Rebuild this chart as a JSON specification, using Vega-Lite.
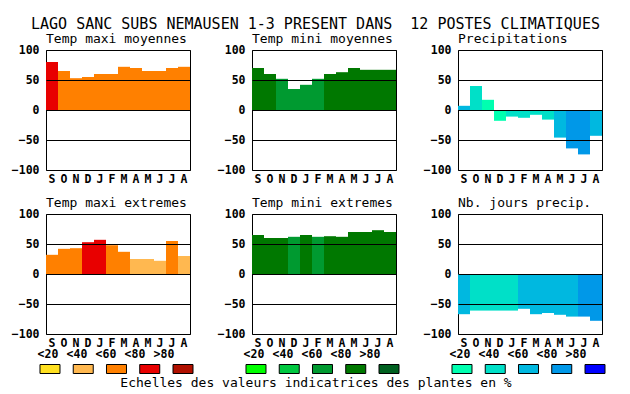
{
  "$schema": "https://vega.github.io/schema/vega-lite/v6.json",
  "padding": {"left": 10, "top": 16, "right": 5, "bottom": 5},
  "background": "white",
  "title": {"text": "LAGO SANC SUBS NEMAUSEN 1-3 PRESENT DANS \u00a012 POSTES CLIMATIQUES", "fontSize": 15, "anchor": "start", "frame": "group", "dx": -15, "offset": -11, "baseline": "alphabetic"},
  "config": {
    "font": "DejaVu Sans Mono",
    "view": {"stroke": "black", "strokeWidth": 1},
    "axis": {"labelFont": "DejaVu Sans Mono", "labelFontWeight": "bold", "labelFontSize": 11.5, "labelColor": "black", "ticks": false, "domain": false},
    "axisY": {"grid": true, "gridColor": "black", "gridOpacity": 1, "gridWidth": 1, "labelPadding": 7},
    "axisX": {"grid": false, "labelPadding": 3, "labelAngle": 0},
    "title": {"font": "DejaVu Sans Mono", "fontSize": 13, "fontWeight": "normal", "anchor": "start", "frame": "group", "color": "black", "offset": -2, "baseline": "alphabetic"},
    "text": {"font": "DejaVu Sans Mono", "color": "black"}
  },
  "datasets": {
    "d": [
      {"p": "tmaxm", "m": 0, "v": 80, "c": "T4"}, {"p": "tmaxm", "m": 1, "v": 65, "c": "T3"}, {"p": "tmaxm", "m": 2, "v": 53, "c": "T3"}, {"p": "tmaxm", "m": 3, "v": 55, "c": "T3"}, {"p": "tmaxm", "m": 4, "v": 60, "c": "T3"}, {"p": "tmaxm", "m": 5, "v": 60, "c": "T3"}, {"p": "tmaxm", "m": 6, "v": 72, "c": "T3"}, {"p": "tmaxm", "m": 7, "v": 70, "c": "T3"}, {"p": "tmaxm", "m": 8, "v": 65, "c": "T3"}, {"p": "tmaxm", "m": 9, "v": 65, "c": "T3"}, {"p": "tmaxm", "m": 10, "v": 70, "c": "T3"}, {"p": "tmaxm", "m": 11, "v": 72, "c": "T3"},
      {"p": "tminm", "m": 0, "v": 70, "c": "G4"}, {"p": "tminm", "m": 1, "v": 60, "c": "G4"}, {"p": "tminm", "m": 2, "v": 52, "c": "G3"}, {"p": "tminm", "m": 3, "v": 35, "c": "G3"}, {"p": "tminm", "m": 4, "v": 42, "c": "G3"}, {"p": "tminm", "m": 5, "v": 52, "c": "G3"}, {"p": "tminm", "m": 6, "v": 60, "c": "G4"}, {"p": "tminm", "m": 7, "v": 63, "c": "G4"}, {"p": "tminm", "m": 8, "v": 70, "c": "G4"}, {"p": "tminm", "m": 9, "v": 67, "c": "G4"}, {"p": "tminm", "m": 10, "v": 67, "c": "G4"}, {"p": "tminm", "m": 11, "v": 67, "c": "G4"},
      {"p": "prec", "m": 0, "v": 7, "c": "B3"}, {"p": "prec", "m": 1, "v": 40, "c": "B2"}, {"p": "prec", "m": 2, "v": 17, "c": "B1"}, {"p": "prec", "m": 3, "v": -18, "c": "B1"}, {"p": "prec", "m": 4, "v": -11, "c": "B2"}, {"p": "prec", "m": 5, "v": -13, "c": "B2"}, {"p": "prec", "m": 6, "v": -8, "c": "B2"}, {"p": "prec", "m": 7, "v": -16, "c": "B2"}, {"p": "prec", "m": 8, "v": -46, "c": "B3"}, {"p": "prec", "m": 9, "v": -64, "c": "B4"}, {"p": "prec", "m": 10, "v": -74, "c": "B4"}, {"p": "prec", "m": 11, "v": -43, "c": "B3"},
      {"p": "tmaxe", "m": 0, "v": 32, "c": "T3"}, {"p": "tmaxe", "m": 1, "v": 42, "c": "T3"}, {"p": "tmaxe", "m": 2, "v": 43, "c": "T3"}, {"p": "tmaxe", "m": 3, "v": 53, "c": "T4"}, {"p": "tmaxe", "m": 4, "v": 57, "c": "T4"}, {"p": "tmaxe", "m": 5, "v": 48, "c": "T3"}, {"p": "tmaxe", "m": 6, "v": 37, "c": "T3"}, {"p": "tmaxe", "m": 7, "v": 25, "c": "T2"}, {"p": "tmaxe", "m": 8, "v": 25, "c": "T2"}, {"p": "tmaxe", "m": 9, "v": 22, "c": "T2"}, {"p": "tmaxe", "m": 10, "v": 55, "c": "T3"}, {"p": "tmaxe", "m": 11, "v": 30, "c": "T2"},
      {"p": "tmine", "m": 0, "v": 65, "c": "G4"}, {"p": "tmine", "m": 1, "v": 60, "c": "G4"}, {"p": "tmine", "m": 2, "v": 60, "c": "G4"}, {"p": "tmine", "m": 3, "v": 62, "c": "G3"}, {"p": "tmine", "m": 4, "v": 65, "c": "G4"}, {"p": "tmine", "m": 5, "v": 62, "c": "G3"}, {"p": "tmine", "m": 6, "v": 63, "c": "G4"}, {"p": "tmine", "m": 7, "v": 62, "c": "G4"}, {"p": "tmine", "m": 8, "v": 70, "c": "G4"}, {"p": "tmine", "m": 9, "v": 70, "c": "G4"}, {"p": "tmine", "m": 10, "v": 73, "c": "G4"}, {"p": "tmine", "m": 11, "v": 70, "c": "G4"},
      {"p": "nbj", "m": 0, "v": -67, "c": "B3"}, {"p": "nbj", "m": 1, "v": -61, "c": "B2"}, {"p": "nbj", "m": 2, "v": -61, "c": "B2"}, {"p": "nbj", "m": 3, "v": -61, "c": "B2"}, {"p": "nbj", "m": 4, "v": -61, "c": "B2"}, {"p": "nbj", "m": 5, "v": -58, "c": "B3"}, {"p": "nbj", "m": 6, "v": -67, "c": "B3"}, {"p": "nbj", "m": 7, "v": -65, "c": "B3"}, {"p": "nbj", "m": 8, "v": -68, "c": "B3"}, {"p": "nbj", "m": 9, "v": -71, "c": "B3"}, {"p": "nbj", "m": 10, "v": -71, "c": "B4"}, {"p": "nbj", "m": 11, "v": -78, "c": "B4"}
    ],
    "leg": [
      {"g": "T", "k": "<20", "c": "T1"}, {"g": "T", "k": "<40", "c": "T2"}, {"g": "T", "k": "<60", "c": "T3"}, {"g": "T", "k": "<80", "c": "T4"}, {"g": "T", "k": ">80", "c": "T5"},
      {"g": "G", "k": "<20", "c": "G1"}, {"g": "G", "k": "<40", "c": "G2"}, {"g": "G", "k": "<60", "c": "G3"}, {"g": "G", "k": "<80", "c": "G4"}, {"g": "G", "k": ">80", "c": "G5"},
      {"g": "B", "k": "<20", "c": "B1"}, {"g": "B", "k": "<40", "c": "B2"}, {"g": "B", "k": "<60", "c": "B3"}, {"g": "B", "k": "<80", "c": "B4"}, {"g": "B", "k": ">80", "c": "B5"}
    ],
    "cap": [{"t": "Echelles des valeurs indicatrices des plantes en %"}]
  },
  "bounds": "flush",
  "columns": 3,
  "spacing": {"row": 14, "column": 62},
  "concat": [
    {"width": 144, "height": 120, "title": "Temp maxi moyennes", "data": {"name": "d"}, "transform": [{"filter": "datum.p == 'tmaxm'"}], "mark": "bar",
     "encoding": {"x": {"field": "m", "type": "ordinal", "scale": {"paddingInner": 0, "paddingOuter": 0}, "axis": {"title": null, "labelExpr": "['S','O','N','D','J','F','M','A','M','J','J','A'][datum.value]"}},
                  "y": {"field": "v", "type": "quantitative", "scale": {"domain": [-100, 100], "nice": false}, "axis": {"title": null, "values": [-100, -50, 0, 50, 100], "zindex": 1}},
                  "color": {"field": "c", "type": "nominal", "legend": null, "scale": {"domain": ["T1","T2","T3","T4","T5","G1","G2","G3","G4","G5","B1","B2","B3","B4","B5"], "range": ["#FFE020","#FFB850","#FF8000","#E80000","#B01000","#00FF00","#00C840","#009A30","#007800","#006020","#00FFB0","#00E0C8","#00B8E0","#0098E8","#0000FF"]}}}},
    {"width": 144, "height": 120, "title": "Temp mini moyennes", "data": {"name": "d"}, "transform": [{"filter": "datum.p == 'tminm'"}], "mark": "bar",
     "encoding": {"x": {"field": "m", "type": "ordinal", "scale": {"paddingInner": 0, "paddingOuter": 0}, "axis": {"title": null, "labelExpr": "['S','O','N','D','J','F','M','A','M','J','J','A'][datum.value]"}},
                  "y": {"field": "v", "type": "quantitative", "scale": {"domain": [-100, 100], "nice": false}, "axis": {"title": null, "values": [-100, -50, 0, 50, 100], "zindex": 1}},
                  "color": {"field": "c", "type": "nominal", "legend": null, "scale": {"domain": ["T1","T2","T3","T4","T5","G1","G2","G3","G4","G5","B1","B2","B3","B4","B5"], "range": ["#FFE020","#FFB850","#FF8000","#E80000","#B01000","#00FF00","#00C840","#009A30","#007800","#006020","#00FFB0","#00E0C8","#00B8E0","#0098E8","#0000FF"]}}}},
    {"width": 144, "height": 120, "title": "Precipitations", "data": {"name": "d"}, "transform": [{"filter": "datum.p == 'prec'"}], "mark": "bar",
     "encoding": {"x": {"field": "m", "type": "ordinal", "scale": {"paddingInner": 0, "paddingOuter": 0}, "axis": {"title": null, "labelExpr": "['S','O','N','D','J','F','M','A','M','J','J','A'][datum.value]"}},
                  "y": {"field": "v", "type": "quantitative", "scale": {"domain": [-100, 100], "nice": false}, "axis": {"title": null, "values": [-100, -50, 0, 50, 100], "zindex": 1}},
                  "color": {"field": "c", "type": "nominal", "legend": null, "scale": {"domain": ["T1","T2","T3","T4","T5","G1","G2","G3","G4","G5","B1","B2","B3","B4","B5"], "range": ["#FFE020","#FFB850","#FF8000","#E80000","#B01000","#00FF00","#00C840","#009A30","#007800","#006020","#00FFB0","#00E0C8","#00B8E0","#0098E8","#0000FF"]}}}},
    {"width": 144, "height": 16, "view": {"stroke": null}, "data": {"values": []}, "mark": "point", "encoding": {}},
    {"width": 144, "height": 16, "view": {"stroke": null}, "data": {"values": []}, "mark": "point", "encoding": {}},
    {"width": 144, "height": 16, "view": {"stroke": null}, "data": {"values": []}, "mark": "point", "encoding": {}},
    {"width": 144, "height": 120, "title": "Temp maxi extremes", "data": {"name": "d"}, "transform": [{"filter": "datum.p == 'tmaxe'"}], "mark": "bar",
     "encoding": {"x": {"field": "m", "type": "ordinal", "scale": {"paddingInner": 0, "paddingOuter": 0}, "axis": {"title": null, "labelExpr": "['S','O','N','D','J','F','M','A','M','J','J','A'][datum.value]"}},
                  "y": {"field": "v", "type": "quantitative", "scale": {"domain": [-100, 100], "nice": false}, "axis": {"title": null, "values": [-100, -50, 0, 50, 100], "zindex": 1}},
                  "color": {"field": "c", "type": "nominal", "legend": null, "scale": {"domain": ["T1","T2","T3","T4","T5","G1","G2","G3","G4","G5","B1","B2","B3","B4","B5"], "range": ["#FFE020","#FFB850","#FF8000","#E80000","#B01000","#00FF00","#00C840","#009A30","#007800","#006020","#00FFB0","#00E0C8","#00B8E0","#0098E8","#0000FF"]}}}},
    {"width": 144, "height": 120, "title": "Temp mini extremes", "data": {"name": "d"}, "transform": [{"filter": "datum.p == 'tmine'"}], "mark": "bar",
     "encoding": {"x": {"field": "m", "type": "ordinal", "scale": {"paddingInner": 0, "paddingOuter": 0}, "axis": {"title": null, "labelExpr": "['S','O','N','D','J','F','M','A','M','J','J','A'][datum.value]"}},
                  "y": {"field": "v", "type": "quantitative", "scale": {"domain": [-100, 100], "nice": false}, "axis": {"title": null, "values": [-100, -50, 0, 50, 100], "zindex": 1}},
                  "color": {"field": "c", "type": "nominal", "legend": null, "scale": {"domain": ["T1","T2","T3","T4","T5","G1","G2","G3","G4","G5","B1","B2","B3","B4","B5"], "range": ["#FFE020","#FFB850","#FF8000","#E80000","#B01000","#00FF00","#00C840","#009A30","#007800","#006020","#00FFB0","#00E0C8","#00B8E0","#0098E8","#0000FF"]}}}},
    {"width": 144, "height": 120, "title": "Nb. jours precip.", "data": {"name": "d"}, "transform": [{"filter": "datum.p == 'nbj'"}], "mark": "bar",
     "encoding": {"x": {"field": "m", "type": "ordinal", "scale": {"paddingInner": 0, "paddingOuter": 0}, "axis": {"title": null, "labelExpr": "['S','O','N','D','J','F','M','A','M','J','J','A'][datum.value]"}},
                  "y": {"field": "v", "type": "quantitative", "scale": {"domain": [-100, 100], "nice": false}, "axis": {"title": null, "values": [-100, -50, 0, 50, 100], "zindex": 1}},
                  "color": {"field": "c", "type": "nominal", "legend": null, "scale": {"domain": ["T1","T2","T3","T4","T5","G1","G2","G3","G4","G5","B1","B2","B3","B4","B5"], "range": ["#FFE020","#FFB850","#FF8000","#E80000","#B01000","#00FF00","#00C840","#009A30","#007800","#006020","#00FFB0","#00E0C8","#00B8E0","#0098E8","#0000FF"]}}}},
    {"width": 144, "height": 42, "view": {"stroke": null}, "data": {"name": "leg"}, "transform": [{"filter": "datum.g == 'T'"}],
     "resolve": {"scale": {"x": "independent"}},
     "layer": [
       {"mark": {"type": "text", "fontWeight": "bold", "fontSize": 11.5},
        "encoding": {"x": {"field": "k", "type": "nominal", "sort": null, "scale": {"type": "point", "padding": 0.4828, "align": 0.0714}, "axis": null},
                     "y": {"datum": "lab", "type": "nominal", "scale": {"type": "point", "domain": ["lab", "sw", "cap"], "padding": 0.5}, "axis": null},
                     "text": {"field": "k"}}},
       {"mark": {"type": "point", "shape": "M-1,-0.45L1,-0.45L1,0.45L-1,0.45Z", "size": 400, "filled": true, "stroke": "black", "strokeWidth": 1, "opacity": 1},
        "encoding": {"x": {"field": "k", "type": "nominal", "sort": null, "scale": {"type": "point", "padding": 0.1654, "align": 0.3636}, "axis": null},
                     "y": {"datum": "sw", "type": "nominal", "scale": {"type": "point", "domain": ["lab", "sw", "cap"], "padding": 0.5}, "axis": null},
                     "fill": {"field": "c", "type": "nominal", "legend": null, "scale": {"domain": ["T1","T2","T3","T4","T5","G1","G2","G3","G4","G5","B1","B2","B3","B4","B5"], "range": ["#FFE020","#FFB850","#FF8000","#E80000","#B01000","#00FF00","#00C840","#009A30","#007800","#006020","#00FFB0","#00E0C8","#00B8E0","#0098E8","#0000FF"]}}}}
     ]},
    {"width": 144, "height": 42, "view": {"stroke": null},
     "resolve": {"scale": {"x": "independent"}},
     "layer": [
       {"data": {"name": "leg"}, "transform": [{"filter": "datum.g == 'G'"}], "mark": {"type": "text", "fontWeight": "bold", "fontSize": 11.5},
        "encoding": {"x": {"field": "k", "type": "nominal", "sort": null, "scale": {"type": "point", "padding": 0.4828, "align": 0.0714}, "axis": null},
                     "y": {"datum": "lab", "type": "nominal", "scale": {"type": "point", "domain": ["lab", "sw", "cap"], "padding": 0.5}, "axis": null},
                     "text": {"field": "k"}}},
       {"data": {"name": "leg"}, "transform": [{"filter": "datum.g == 'G'"}], "mark": {"type": "point", "shape": "M-1,-0.45L1,-0.45L1,0.45L-1,0.45Z", "size": 400, "filled": true, "stroke": "black", "strokeWidth": 1, "opacity": 1},
        "encoding": {"x": {"field": "k", "type": "nominal", "sort": null, "scale": {"type": "point", "padding": 0.1654, "align": 0.3636}, "axis": null},
                     "y": {"datum": "sw", "type": "nominal", "scale": {"type": "point", "domain": ["lab", "sw", "cap"], "padding": 0.5}, "axis": null},
                     "fill": {"field": "c", "type": "nominal", "legend": null, "scale": {"domain": ["T1","T2","T3","T4","T5","G1","G2","G3","G4","G5","B1","B2","B3","B4","B5"], "range": ["#FFE020","#FFB850","#FF8000","#E80000","#B01000","#00FF00","#00C840","#009A30","#007800","#006020","#00FFB0","#00E0C8","#00B8E0","#0098E8","#0000FF"]}}}},
       {"data": {"name": "cap"}, "mark": {"type": "text", "fontSize": 13, "dx": -8},
        "encoding": {"y": {"datum": "cap", "type": "nominal", "scale": {"type": "point", "domain": ["lab", "sw", "cap"], "padding": 0.5}, "axis": null},
                     "text": {"field": "t"}}}
     ]},
    {"width": 144, "height": 42, "view": {"stroke": null}, "data": {"name": "leg"}, "transform": [{"filter": "datum.g == 'B'"}],
     "resolve": {"scale": {"x": "independent"}},
     "layer": [
       {"mark": {"type": "text", "fontWeight": "bold", "fontSize": 11.5},
        "encoding": {"x": {"field": "k", "type": "nominal", "sort": null, "scale": {"type": "point", "padding": 0.4828, "align": 0.0714}, "axis": null},
                     "y": {"datum": "lab", "type": "nominal", "scale": {"type": "point", "domain": ["lab", "sw", "cap"], "padding": 0.5}, "axis": null},
                     "text": {"field": "k"}}},
       {"mark": {"type": "point", "shape": "M-1,-0.45L1,-0.45L1,0.45L-1,0.45Z", "size": 400, "filled": true, "stroke": "black", "strokeWidth": 1, "opacity": 1},
        "encoding": {"x": {"field": "k", "type": "nominal", "sort": null, "scale": {"type": "point", "padding": 0.1654, "align": 0.3636}, "axis": null},
                     "y": {"datum": "sw", "type": "nominal", "scale": {"type": "point", "domain": ["lab", "sw", "cap"], "padding": 0.5}, "axis": null},
                     "fill": {"field": "c", "type": "nominal", "legend": null, "scale": {"domain": ["T1","T2","T3","T4","T5","G1","G2","G3","G4","G5","B1","B2","B3","B4","B5"], "range": ["#FFE020","#FFB850","#FF8000","#E80000","#B01000","#00FF00","#00C840","#009A30","#007800","#006020","#00FFB0","#00E0C8","#00B8E0","#0098E8","#0000FF"]}}}}
     ]}
  ]
}
